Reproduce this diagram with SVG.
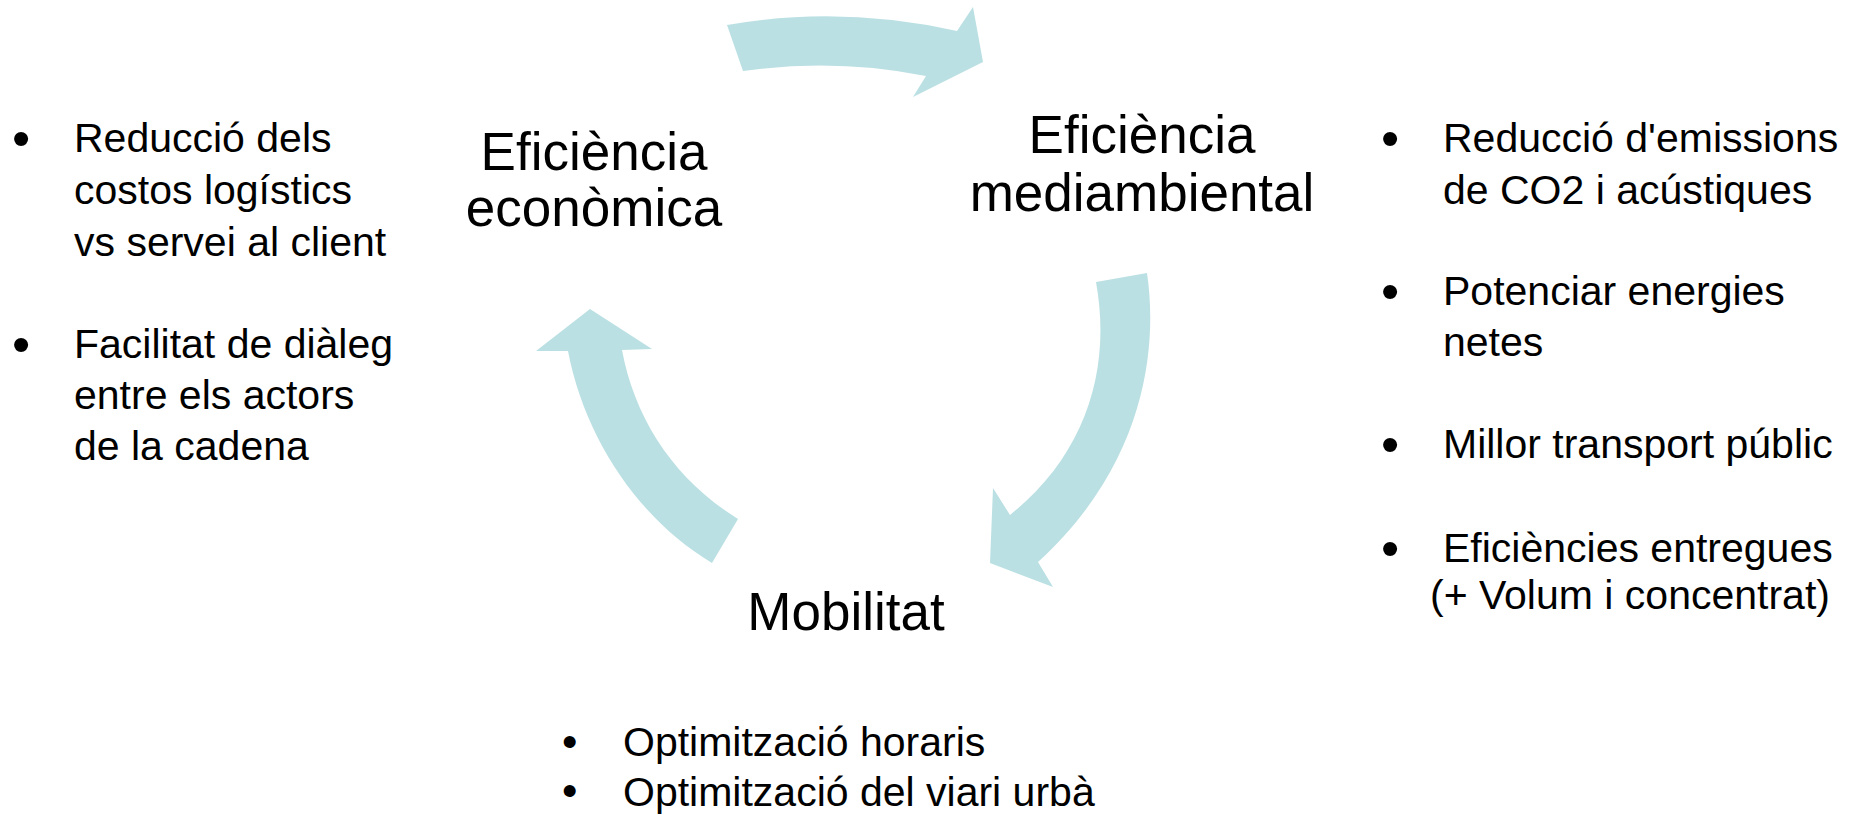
<svg xmlns="http://www.w3.org/2000/svg" width="1863" height="815" viewBox="0 0 1863 815">
<style>
.arrow{fill:#BBE0E3;stroke:none}
.title{font-family:"Liberation Sans",Arial,sans-serif;font-size:53px;fill:#000;text-anchor:middle}
.item{font-family:"Liberation Sans",Arial,sans-serif;font-size:41px;fill:#000}
.bul{font-family:"Liberation Sans",Arial,sans-serif;font-size:52px;fill:#000}
.bul2{font-family:"Liberation Sans",Arial,sans-serif;font-size:44px;fill:#000}
</style>
<rect width="1863" height="815" fill="#fff"/>
<g id="connectors">
<path class="arrow" d="M727,25 Q840,5 957,31 L973,7 L983,62 L913,97 L926,76 Q835,58 743,71 Z"/>
<path class="arrow" d="M1096,282 L1147,273 C1157,340 1150,460 1038,562 L1053,587 L990,563 L993,488 L1010,515 C1085,455 1112,370 1096,282 Z"/>
<path class="arrow" d="M590,309 L652,349 L622,350 C635,420 675,480 738,519 L712,563 C640,520 585,440 568,351 L536,351 Z"/>
</g>
<g id="node-economica">
<text class="title" x="594" y="170">Eficiència</text>
<text class="title" x="594" y="226">econòmica</text>
</g>
<g id="node-mediambiental">
<text class="title" x="1142" y="153">Eficiència</text>
<text class="title" x="1142" y="211">mediambiental</text>
</g>
<g id="node-mobilitat">
<text class="title" x="846" y="630">Mobilitat</text>
</g>
<g id="list-economica">
<text class="bul" x="12" y="156">•</text>
<text class="item" x="74" y="152">Reducció dels</text>
<text class="item" x="74" y="204">costos logístics</text>
<text class="item" x="74" y="256">vs servei al client</text>
<text class="bul" x="12" y="362">•</text>
<text class="item" x="74" y="358">Facilitat de diàleg</text>
<text class="item" x="74" y="409">entre els actors</text>
<text class="item" x="74" y="460">de la cadena</text>
</g>
<g id="list-mediambiental">
<text class="bul" x="1381" y="156">•</text>
<text class="item" x="1443" y="152">Reducció d'emissions</text>
<text class="item" x="1443" y="204">de CO2 i acústiques</text>
<text class="bul" x="1381" y="309">•</text>
<text class="item" x="1443" y="305">Potenciar energies</text>
<text class="item" x="1443" y="356">netes</text>
<text class="bul" x="1381" y="462">•</text>
<text class="item" x="1443" y="458">Millor transport públic</text>
<text class="bul" x="1381" y="566">•</text>
<text class="item" x="1443" y="562">Eficiències entregues</text>
<text class="item" x="1430" y="609">(+ Volum i concentrat)</text>
</g>
<g id="list-mobilitat">
<text class="bul2" x="562" y="757">•</text>
<text class="item" x="623" y="756">Optimització horaris</text>
<text class="bul2" x="562" y="806">•</text>
<text class="item" x="623" y="806">Optimització del viari urbà</text>
</g>
</svg>
